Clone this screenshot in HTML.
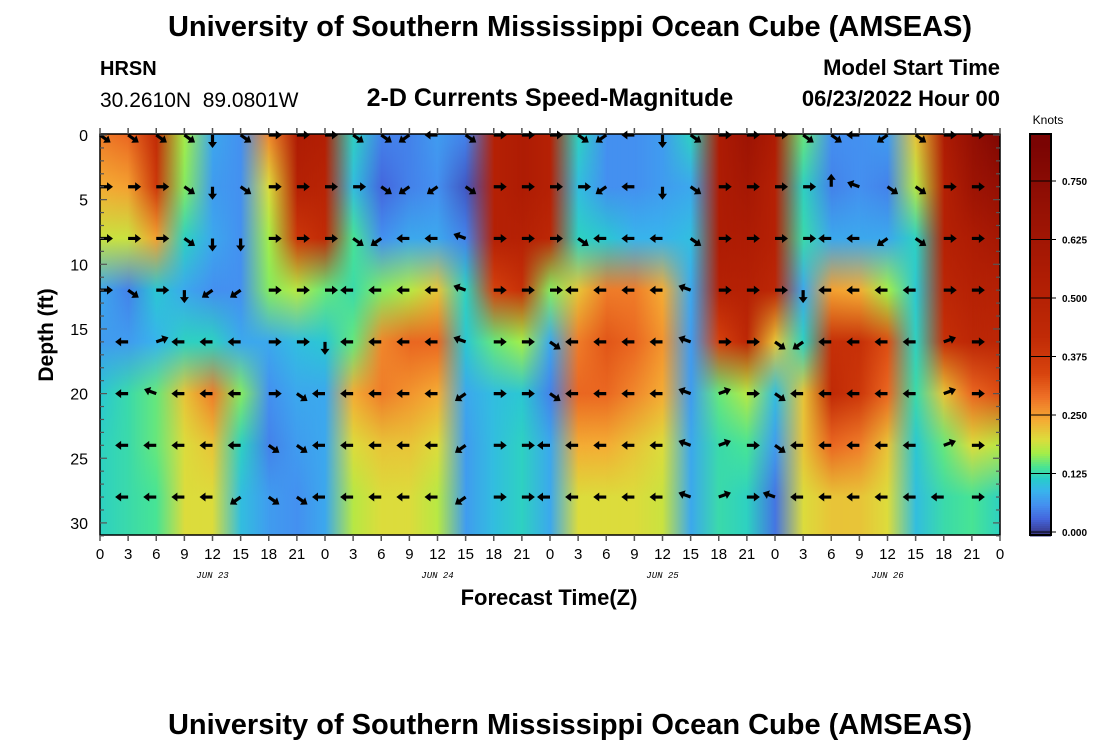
<!DOCTYPE html>
<html><head><meta charset="utf-8"><style>
html,body{margin:0;padding:0;background:#fff;}
svg{display:block;font-family:"Liberation Sans",sans-serif;}
</style></head><body>
<svg id="chart" width="1100" height="750" viewBox="0 0 1100 750">
<defs id="defs">
<clipPath id="plotclip"><rect x="100" y="134" width="900" height="401"/></clipPath>
<linearGradient id="rampg" x1="0" y1="0" x2="1" y2="0"><stop offset="0" stop-color="#000"/><stop offset="1" stop-color="#fff"/></linearGradient>
<mask id="ramp" maskContentUnits="objectBoundingBox"><rect x="0" y="0" width="1" height="1" fill="url(#rampg)"/></mask>
</defs>
<text x="570" y="36" text-anchor="middle" font-size="29" font-weight="bold">University of Southern Mississippi Ocean Cube (AMSEAS)</text>
<text x="100" y="75" font-size="20" font-weight="bold">HRSN</text>
<text x="100" y="107" font-size="21" xml:space="preserve">30.2610N  89.0801W</text>
<text x="550" y="106" text-anchor="middle" font-size="25" font-weight="bold">2-D Currents Speed-Magnitude</text>
<text x="1000" y="75" text-anchor="end" font-size="22" font-weight="bold">Model Start Time</text>
<text x="1000" y="106" text-anchor="end" font-size="22" font-weight="bold">06/23/2022 Hour 00</text>
<g id="heat" clip-path="url(#plotclip)"></g>
<g id="arrows"></g>
<g id="axes"></g>
<text x="549" y="605" text-anchor="middle" font-size="22" font-weight="bold">Forecast Time(Z)</text>
<text transform="translate(53,335) rotate(-90)" text-anchor="middle" font-size="21" font-weight="bold">Depth (ft)</text>
<g id="cbar"></g>
<text x="1048" y="124" text-anchor="middle" font-size="12">Knots</text>
<text x="570" y="734" text-anchor="middle" font-size="29" font-weight="bold">University of Southern Mississippi Ocean Cube (AMSEAS)</text>
</svg>
<script>
var times=[0,3,6,9,12,15,18,21,24,27,30,33,36,39,42,45,48,51,54,57,60,63,66,69,72,75,78,81,84,87,90,93,96];
var depths=[0,4,8,12,16,20,24,28];
var xTickLabels=["0","3","6","9","12","15","18","21"];
var dayLabels=["JUN 23","JUN 24","JUN 25","JUN 26"];
var yTickLabels=["0","5","10","15","20","25","30"];
var cbarTicks=[0,0.125,0.25,0.375,0.5,0.625,0.75];
// speed (knots) per depth level, across times
var speed0=[.28,.30,.42,.17,.08,.06,.27,.55,.52,.12,.05,.05,.07,.05,.50,.55,.50,.12,.06,.06,.07,.12,.55,.65,.55,.15,.06,.06,.07,.22,.55,.70,.80];
var speed4=[.24,.25,.38,.16,.07,.06,.20,.50,.48,.10,.03,.05,.06,.02,.50,.55,.50,.10,.06,.06,.07,.08,.55,.60,.50,.12,.05,.06,.05,.18,.50,.65,.70];
var speed8=[.19,.19,.25,.12,.08,.06,.17,.38,.42,.14,.06,.08,.08,.05,.50,.50,.45,.12,.11,.09,.09,.10,.55,.55,.50,.13,.08,.08,.08,.12,.50,.55,.60];
var speed12=[.08,.05,.11,.08,.06,.06,.16,.18,.15,.13,.16,.18,.22,.12,.35,.40,.16,.22,.28,.28,.24,.08,.50,.50,.45,.08,.25,.24,.17,.11,.45,.50,.50];
var speed16=[.07,.07,.09,.12,.12,.08,.08,.10,.11,.15,.27,.30,.30,.11,.15,.17,.08,.28,.32,.30,.26,.07,.35,.45,.22,.12,.40,.40,.33,.12,.40,.45,.45];
var speed20=[.11,.13,.15,.22,.28,.16,.06,.08,.08,.24,.28,.26,.24,.08,.10,.11,.05,.30,.30,.27,.24,.07,.15,.18,.10,.22,.42,.38,.30,.13,.22,.30,.33];
var speed24=[.12,.13,.15,.20,.22,.12,.05,.07,.08,.20,.22,.22,.20,.07,.10,.12,.08,.24,.24,.22,.20,.08,.13,.14,.07,.22,.30,.28,.22,.11,.15,.20,.18];
var speed28=[.12,.13,.14,.20,.20,.10,.07,.06,.08,.18,.20,.20,.18,.07,.10,.12,.08,.20,.20,.20,.19,.08,.13,.12,.04,.20,.22,.22,.20,.10,.13,.14,.12];
var speeds=[speed0,speed4,speed8,speed12,speed16,speed20,speed24,speed28];
// arrow directions: r right, l left, d down, u up, a down-right, b down-left, c up-left, e up-right, . none
var dir0="aaaadarr"+"raablarr"+"rabldarr"+"raalbarr"+"r";
var dir4="rrradarr"+"rrabbarr"+"rrbldarr"+"rrucaarr"+"r";
var dir8="rrraddrr"+"rabllcrr"+"ralllarr"+"rrllbarr"+"r";
var dir12="rardbbrr"+"rllllcrr"+"rllllcrr"+"rdllllrr"+"r";
var dir16=".lelllrr"+"dllllcrr"+"allllcrr"+"abllller"+"r";
var dir20=".lclllra"+"lllllbrr"+"allllcer"+"alllller"+"r";
var dir24=".lllllaa"+"lllllbrr"+"lllllcer"+"alllller"+"r";
var dir28=".llllbaa"+"lllllbrr"+"lllllcer"+"cllllllr"+"r";
var dirs=[dir0,dir4,dir8,dir12,dir16,dir20,dir24,dir28];
var angleOf={r:0,l:180,d:90,u:-90,a:35,b:145,c:-160,e:-20};

var X0=100,X1=1000,Y0=135,PXF=12.93;
function xs(t){return X0+(X1-X0)*t/96;}
function ys(d){return Y0+d*PXF;}
var stops=[[0,'#3a3a8c'],[.03,'#4466dd'],[.06,'#4490f0'],[.09,'#38b4ec'],[.115,'#28cccc'],[.14,'#48e494'],[.17,'#a4ee48'],[.2,'#dcdc3c'],[.24,'#f4ac34'],[.29,'#ee7026'],[.34,'#d8440e'],[.42,'#c02a06'],[.55,'#ae1c04'],[.7,'#941004'],[.83,'#7a0403']];
function hex(h){return [parseInt(h.substr(1,2),16),parseInt(h.substr(3,2),16),parseInt(h.substr(5,2),16)];}
function color(v){
  if(v<=stops[0][0])return stops[0][1];
  for(var i=1;i<stops.length;i++){if(v<=stops[i][0]){var a=hex(stops[i-1][1]),b=hex(stops[i][1]),f=(v-stops[i-1][0])/(stops[i][0]-stops[i-1][0]);
    return 'rgb('+a.map(function(c,k){return Math.round(c+(b[k]-c)*f);}).join(',')+')';}}
  return stops[stops.length-1][1];
}
var NS='http://www.w3.org/2000/svg';
function mk(tag,attrs,parent){var e=document.createElementNS(NS,tag);for(var k in attrs)e.setAttribute(k,attrs[k]);parent.appendChild(e);return e;}
var defs=document.getElementById('defs');
var hc=document.getElementById('heat');
var yTop=ys(0),yBot=ys(31);
for(var ti=0;ti<times.length;ti++){
  var lg=mk('linearGradient',{id:'col'+ti,x1:0,y1:yTop,x2:0,y2:yBot,gradientUnits:'userSpaceOnUse'},defs);
  for(var di=0;di<depths.length;di++){
    var off=(ys(depths[di])-yTop)/(yBot-yTop);
    mk('stop',{offset:off,'stop-color':color(speeds[di][ti])},lg);
  }
}
for(var ti=0;ti<times.length-1;ti++){
  var x=xs(times[ti]),w=xs(times[ti+1])-x+0.5;
  var c=mk('rect',{x:x,y:yTop-2,width:w,height:yBot-yTop+4,fill:'url(#col'+ti+')'},hc);
  
  
  var c2=mk('rect',{x:x,y:yTop-2,width:w,height:yBot-yTop+4,fill:'url(#col'+(ti+1)+')',mask:'url(#ramp)'},hc);
  
  
}
var ag=document.getElementById('arrows');
for(var di=0;di<depths.length;di++){
  for(var ti=0;ti<times.length;ti++){
    var ch=dirs[di].charAt(ti);
    if(!(ch in angleOf))continue;
    var px=xs(times[ti]),py=ys(depths[di]);
    if(px>=X1-1)continue;
    var g=mk('g',{transform:'translate('+px+','+py+') rotate('+angleOf[ch]+')'},ag);
    
    
    mk('path',{d:'M0,-1.6 L7,-1.6 L7,-4.5 L13,0 L7,4.5 L7,1.6 L0,1.6 Z',fill:'#000'},g);
  }
}
var ax=document.getElementById('axes');
var fr=mk('rect',{x:X0,y:134,width:X1-X0,height:401,fill:'none',stroke:'#000','stroke-width':1.5},ax);


for(var t=0;t<=96;t+=3){
  var x=xs(t);
  mk('line',{x1:x,y1:535,x2:x,y2:541,stroke:'#555','stroke-width':1.5},ax);
  mk('line',{x1:x,y1:134,x2:x,y2:128,stroke:'#555','stroke-width':1.5},ax);
  var tl=mk('text',{x:x,y:559,'text-anchor':'middle','font-size':15},ax);
  tl.textContent=(t==96)?"0":xTickLabels[(t/3)%8];
  
  
}
for(var d=0;d<4;d++){
  var dl=mk('text',{x:xs(d*24+12),y:578,'text-anchor':'middle','font-size':9,'font-style':'italic','font-family':'Liberation Mono, monospace'},ax);
  dl.textContent=dayLabels[d];
  
  
}
for(var f=0;f<=31;f++){
  var y=ys(f),L=(f%5==0)?7:4;
  mk('line',{x1:X0,y1:y,x2:X0+L,y2:y,stroke:'#555','stroke-width':1.2},ax);
  mk('line',{x1:X1,y1:y,x2:X1-L,y2:y,stroke:'#555','stroke-width':1.2},ax);
}
for(var i=0;i<yTickLabels.length;i++){
  var yl=mk('text',{x:88,y:ys(i*5)+6,'text-anchor':'end','font-size':16},ax);
  yl.textContent=yTickLabels[i];
  
  
}
var cb=document.getElementById('cbar');
var CB0=532,CBS=(532-181)/0.75;
for(var y=134;y<535;y+=2){
  var v=(CB0-y)/CBS;
  mk('rect',{x:1030,y:y,width:21,height:2.5,fill:color(v)},cb);
}
mk('rect',{x:1030,y:134,width:21,height:401,fill:'none',stroke:'#000','stroke-width':2},cb);
for(var i=0;i<cbarTicks.length;i++){
  var y=CB0-cbarTicks[i]*CBS;
  mk('line',{x1:1030,y1:y,x2:1056,y2:y,stroke:'#000','stroke-width':1},cb);
  var cl=mk('text',{x:1062,y:y+4,'font-size':10,'font-weight':'bold'},cb);
  cl.textContent=cbarTicks[i].toFixed(3);
  
  
}
</script>
</body></html>
